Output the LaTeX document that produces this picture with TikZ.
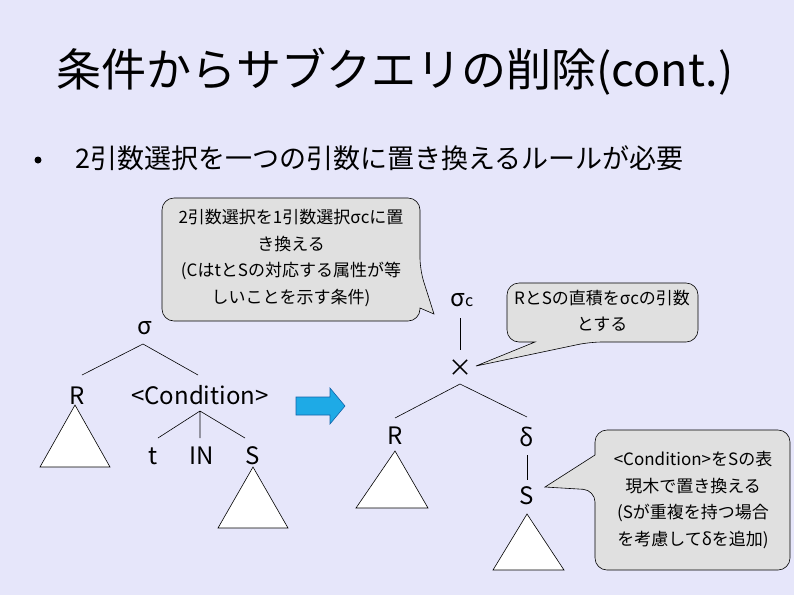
\documentclass[tikz,border=0pt]{standalone}
\usepackage{fontspec}
\setmainfont{Noto Sans CJK JP}
\begin{document}
\begin{tikzpicture}[x=1pt,y=-1pt,
  lbl/.style={font=\fontsize{24}{26}\selectfont,inner sep=0pt},
  tri/.style={draw,fill=white,line width=0.6pt},
  edge/.style={line width=0.6pt},
  callout/.style={draw,fill=black!12,line width=0.6pt,rounded corners=12pt},
  ctext/.style={font=\fontsize{17}{26.5}\selectfont,align=center,inner sep=0pt}]
\fill[fill={rgb,255:red,230;green,230;blue,250}] (0,0) rectangle (794,595);
\useasboundingbox (0,0) rectangle (794,595);
\node[font=\fontsize{45}{48}\selectfont,inner sep=0pt] (title) at (395,72) {条件からサブクエリの削除(cont.)};
\fill (38,160) circle (3.5);
\node[anchor=west,font=\fontsize{27}{29}\selectfont,inner sep=0pt] (bul) at (75,158) {2引数選択を一つの引数に置き換えるルールが必要};
% left tree
\node[lbl] (sig) at (145,328) {σ};
\node[lbl] (R1) at (77,396) {R};
\node[lbl] (cond) at (200,395) {<Condition>};
\node[lbl] (t) at (153,456) {t};
\node[lbl] (IN) at (202,456) {IN};
\node[lbl] (S1) at (253,456) {S};
\coordinate (sb) at (143,344);
\draw[edge] (sb) -- (82,375) (sb) -- (198,375);
\coordinate (cb) at (200,411);
\draw[edge] (cb) -- (158,438) (cb) -- (200,438) (cb) -- (245,438);
\draw[tri] (75,405) -- (40,467) -- (110,467) -- cycle;
\draw[tri] (253,467) -- (218,528) -- (288,528) -- cycle;
% arrow
\draw[fill={rgb,255:red,30;green,170;blue,230},draw={rgb,255:red,20;green,100;blue,170},line width=0.6pt]
 (296,397) -- (330,397) -- (330,388) -- (345,406) -- (330,424) -- (330,415) -- (296,415) -- cycle;
% right tree
\node[lbl] (sigc) at (462,300) {σ\fontsize{16}{17}\selectfont c};
\node[lbl] (x) at (460,368) {×};
\node[lbl] (R2) at (395,436) {R};
\node[lbl] (del) at (527,437) {δ};
\node[lbl] (S2) at (527,496) {S};
\draw[edge] (460,318) -- (460,350);
\coordinate (xb) at (460,384);
\draw[edge] (xb) -- (395,418) (xb) -- (527,417);
\draw[edge] (527,455) -- (527,480);
\draw[tri] (395,451) -- (356,508) -- (428,508) -- cycle;
\draw[tri] (527,514) -- (493,570) -- (564,570) -- cycle;
% callouts
\draw[callout] (162,198) -- (420,198) -- (420,270) [sharp corners] -- (434,314) -- (420,308) [rounded corners=12pt] -- (420,321) -- (162,321) -- cycle;
\node[ctext] (c1) at (291,258) {2引数選択を1引数選択σcに置\\き換える\\(CはtとSの対応する属性が等\\しいことを示す条件)};
\draw[callout] (507,283) -- (698,283) -- (698,342) -- (590,342) [sharp corners] -- (476,366) -- (535,342) [rounded corners=12pt] -- (507,342) -- cycle;
\node[ctext] (c2) at (602,311) {RとSの直積をσcの引数\\とする};
\draw[callout] (595,430) -- (790,430) -- (790,570) -- (595,570) -- (595,490) [sharp corners] -- (545,487) -- (595,455) [rounded corners=12pt] -- cycle;
\node[ctext] (c3) at (693,500) {<Condition>をSの表\\現木で置き換える\\(Sが重複を持つ場合\\を考慮してδを追加)};
\end{tikzpicture}
\end{document}
